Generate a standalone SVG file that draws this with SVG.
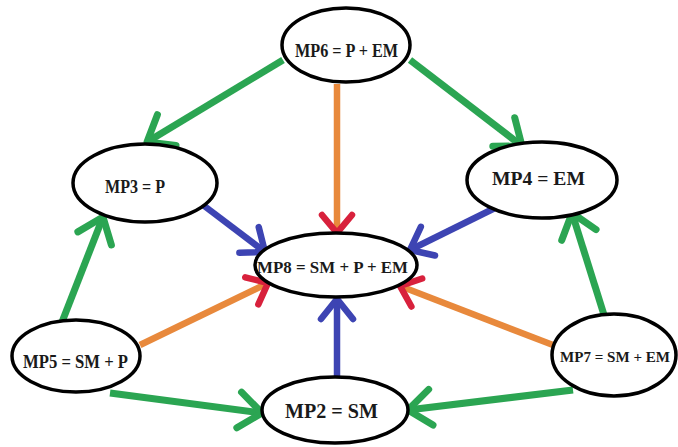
<svg xmlns="http://www.w3.org/2000/svg" width="678" height="447" viewBox="0 0 678 447">
<style>
.node ellipse{fill:#fff;stroke:#000;stroke-width:3.5}
.node text{font-family:"Liberation Serif","Times New Roman",serif;font-weight:bold;fill:#1a1a1a}
.g{stroke:#2ba552;stroke-width:7;fill:none}
.b{stroke:#3d44b3;stroke-width:6.5;fill:none}
.o{stroke:#e8893c;stroke-width:6.5;fill:none}
</style>
<defs>
<marker id="ag" viewBox="-30 -22 36 44" markerWidth="36" markerHeight="44" refX="0" refY="0" orient="auto" markerUnits="userSpaceOnUse">
<path d="M-23,-18 L0,0 L-23,18" fill="none" stroke="#2ba552" stroke-width="7" stroke-linecap="round" stroke-linejoin="round"/>
</marker>
<marker id="ab" viewBox="-30 -22 36 44" markerWidth="36" markerHeight="44" refX="0" refY="0" orient="auto" markerUnits="userSpaceOnUse">
<path d="M-20,-16 L0,0 L-20,16" fill="none" stroke="#3d44b3" stroke-width="6.5" stroke-linecap="round" stroke-linejoin="round"/>
</marker>
<marker id="ar" viewBox="-30 -22 36 44" markerWidth="36" markerHeight="44" refX="0" refY="0" orient="auto" markerUnits="userSpaceOnUse">
<path d="M-18,-15 L0,0 L-18,15" fill="none" stroke="#d8213c" stroke-width="6.5" stroke-linecap="round" stroke-linejoin="round"/>
</marker>
</defs>
<g id="connectors">
<line class="g" x1="283" y1="60" x2="147" y2="142" marker-end="url(#ag)"/>
<line class="g" x1="410" y1="60" x2="522" y2="146" marker-end="url(#ag)"/>
<line class="g" x1="62" y1="322" x2="103" y2="217" marker-end="url(#ag)"/>
<line class="g" x1="605" y1="318" x2="572" y2="213" marker-end="url(#ag)"/>
<line class="g" x1="110" y1="393" x2="262" y2="413" marker-end="url(#ag)"/>
<line class="g" x1="573" y1="390" x2="408" y2="410" marker-end="url(#ag)"/>
<line class="o" x1="337" y1="84" x2="337" y2="233" marker-end="url(#ar)"/>
<line class="o" x1="140" y1="345" x2="268" y2="283" marker-end="url(#ar)"/>
<line class="o" x1="553" y1="345" x2="400" y2="286" marker-end="url(#ar)"/>
<line class="b" x1="203" y1="205" x2="265" y2="252" marker-end="url(#ab)"/>
<line class="b" x1="497" y1="207" x2="410" y2="250" marker-end="url(#ab)"/>
<line class="b" x1="337" y1="378" x2="337" y2="299" marker-end="url(#ab)"/>
</g>
<g id="MP6" class="node"><ellipse cx="346" cy="45" rx="64" ry="37"/><text x="295" y="57" font-size="19" textLength="103" lengthAdjust="spacingAndGlyphs">MP6 = P + EM</text></g>
<g id="MP3" class="node"><ellipse cx="145" cy="183" rx="72" ry="39"/><text x="105" y="193" font-size="19" textLength="60" lengthAdjust="spacingAndGlyphs">MP3 = P</text></g>
<g id="MP4" class="node"><ellipse cx="542" cy="180" rx="75" ry="38"/><text x="492" y="185" font-size="19" textLength="93" lengthAdjust="spacingAndGlyphs">MP4 = EM</text></g>
<g id="MP8" class="node"><ellipse cx="336" cy="265" rx="81" ry="32"/><text x="257" y="273" font-size="17" textLength="151" lengthAdjust="spacingAndGlyphs">MP8 = SM + P + EM</text></g>
<g id="MP5" class="node"><ellipse cx="76" cy="356" rx="64" ry="36"/><text x="23" y="368" font-size="18" textLength="105" lengthAdjust="spacingAndGlyphs">MP5 = SM + P</text></g>
<g id="MP7" class="node"><ellipse cx="614" cy="355" rx="62" ry="41"/><text x="560" y="362" font-size="15.5" textLength="110" lengthAdjust="spacingAndGlyphs">MP7 = SM + EM</text></g>
<g id="MP2" class="node"><ellipse cx="335" cy="410" rx="73" ry="33"/><text x="285" y="418" font-size="21" textLength="93" lengthAdjust="spacingAndGlyphs">MP2 = SM</text></g>
</svg>
